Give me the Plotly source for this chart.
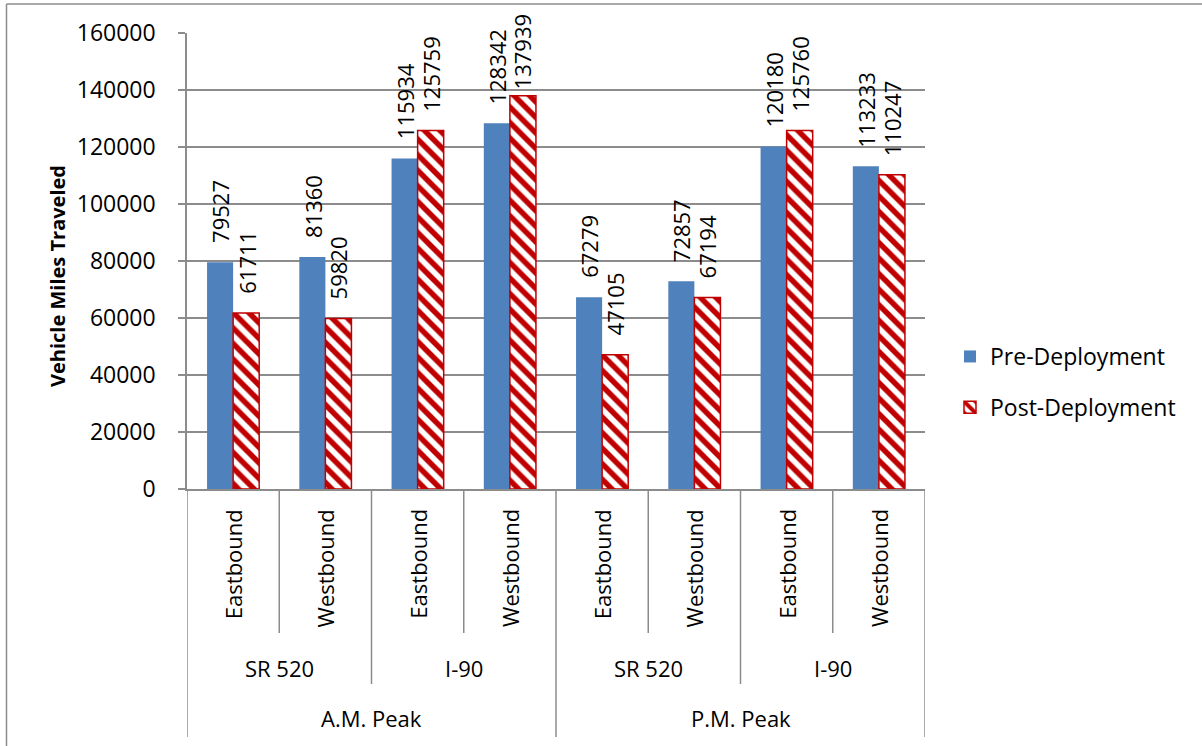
import plotly.graph_objects as go

# Vehicle miles traveled by peak period, corridor and direction
periods = ["A.M. Peak", "P.M. Peak"]
roads = ["SR 520", "I-90"]
directions = ["Eastbound", "Westbound"]

pre_deployment = [79527, 81360, 115934, 128342, 67279, 72857, 120180, 113233]
post_deployment = [61711, 59820, 125759, 137939, 47105, 67194, 125760, 110247]

y_ticks = [0, 20000, 40000, 60000, 80000, 100000, 120000, 140000, 160000]

# flattened category keys (period / road / direction)
cats = []
for p in periods:
    for r in roads:
        for d in directions:
            cats.append(f"{p} | {r} | {d}")

FONT = "Open Sans"
BLUE = "#4F81BD"
RED = "#C00000"
GRAY = "#8C8C8C"
BARGAP = 0.435

# plot-area geometry in pixels (figure is 1202 x 746)
W, H = 1202, 746
L, R, T, B = 187, 277, 33, 257
PW = W - L - R
PH = H - T - B


def py(px_y):
    """pixel row -> paper y"""
    return (H - B - px_y) / PH


def px(px_x):
    """pixel column -> paper x"""
    return (px_x - L) / PW


fig = go.Figure()
fig.add_bar(
    x=cats, y=pre_deployment, name="Pre-Deployment",
    marker=dict(color=BLUE, line=dict(width=0)),
    legendgroup="pre",
)
fig.add_bar(
    x=cats, y=post_deployment, name="Post-Deployment",
    marker=dict(
        color="white",
        line=dict(color=RED, width=1.5),
        pattern=dict(shape="\\", fgcolor=RED, bgcolor="white",
                     size=11, solidity=0.5, fillmode="replace"),
    ),
    legendgroup="post",
)

annotations = []
shapes = []

# value labels, rotated, above each bar
bar_w = (1 - BARGAP) / 2
y_scale = PH / 160000.0
for i in range(len(cats)):
    for vals, off in ((pre_deployment, -bar_w / 2), (post_deployment, bar_w / 2)):
        v = vals[i]
        label = str(v)
        top_px = (H - B) - v * y_scale
        text_len = 13 * len(label)
        shift = 17
        if top_px - shift - text_len < 13:
            shift = max(4, top_px - text_len - 13)
        annotations.append(dict(
            x=i + off, y=v, xref="x", yref="y", text=label, textangle=-90,
            showarrow=False, xanchor="center", yanchor="bottom", yshift=shift,
            font=dict(family=FONT, size=22, color="black"),
        ))

# multi-level category labels
for i, c in enumerate(cats):
    d = c.split(" | ")[2]
    annotations.append(dict(
        x=i, y=py(507), xref="x", yref="paper", text=d, textangle=-90,
        showarrow=False, xanchor="center", yanchor="top",
        font=dict(family=FONT, size=22, color="black"),
    ))
n_dir = len(directions)
n_road = len(roads)
for pi, p in enumerate(periods):
    for ri, r in enumerate(roads):
        start = (pi * n_road + ri) * n_dir
        annotations.append(dict(
            x=start + (n_dir - 1) / 2, y=py(668), xref="x", yref="paper",
            text=r, showarrow=False, xanchor="center", yanchor="middle",
            font=dict(family=FONT, size=22, color="black"),
        ))
    start = pi * n_road * n_dir
    annotations.append(dict(
        x=start + (n_road * n_dir - 1) / 2, y=py(718), xref="x", yref="paper",
        text=p, showarrow=False, xanchor="center", yanchor="middle",
        font=dict(family=FONT, size=22, color="black"),
    ))

# y-axis title
annotations.append(dict(
    x=px(57), y=py(276), xref="paper", yref="paper",
    text="<b>Vehicle Miles Traveled</b>", textangle=-90, showarrow=False,
    xanchor="center", yanchor="middle",
    font=dict(family=FONT, size=20, color="black"),
))

# divider lines below the category axis
line_style = dict(color=GRAY, width=1.5)
for k in range(len(cats) + 1):
    xpos = k - 0.5
    if k % (n_dir * n_road) == 0:
        bottom = py(737)
    elif k % n_dir == 0:
        bottom = py(684)
    else:
        bottom = py(633)
    shapes.append(dict(type="line", xref="x", yref="paper",
                       x0=xpos, x1=xpos, y0=0, y1=bottom, line=line_style))

# chart border (top and left edges)
shapes.append(dict(type="line", xref="paper", yref="paper",
                   x0=px(6.5), x1=px(W + 2), y0=py(4), y1=py(4), line=line_style))
shapes.append(dict(type="line", xref="paper", yref="paper",
                   x0=px(6.5), x1=px(6.5), y0=py(4), y1=py(H + 2), line=line_style))

fig.update_layout(
    width=W, height=H,
    margin=dict(l=L, r=R, t=T, b=B, pad=0),
    paper_bgcolor="white", plot_bgcolor="white",
    barmode="group", bargap=BARGAP, bargroupgap=0,
    font=dict(family=FONT, size=23, color="black"),
    showlegend=True,
    legend=dict(
        x=px(950), y=py(335), xanchor="left", yanchor="top",
        traceorder="grouped", tracegroupgap=18,
        font=dict(family=FONT, size=23, color="black"),
        bgcolor="rgba(0,0,0,0)",
    ),
    annotations=annotations,
    shapes=shapes,
)

fig.update_xaxes(
    type="category", categoryorder="array", categoryarray=cats,
    range=[-0.5, len(cats) - 0.5],
    showticklabels=False, ticks="", showgrid=False,
    showline=True, linecolor=GRAY, linewidth=1.5, zeroline=False,
)
fig.update_yaxes(
    range=[0, 160000], tickvals=y_ticks, ticktext=[str(t) for t in y_ticks],
    showgrid=True, gridcolor=GRAY, gridwidth=1.5,
    showline=True, linecolor=GRAY, linewidth=1.5,
    ticks="outside", ticklen=7, tickcolor=GRAY, tickwidth=1.5,
    ticklabelstandoff=18, zeroline=False,
    tickfont=dict(family=FONT, size=23, color="black"),
)

fig.write_html("out.html")
